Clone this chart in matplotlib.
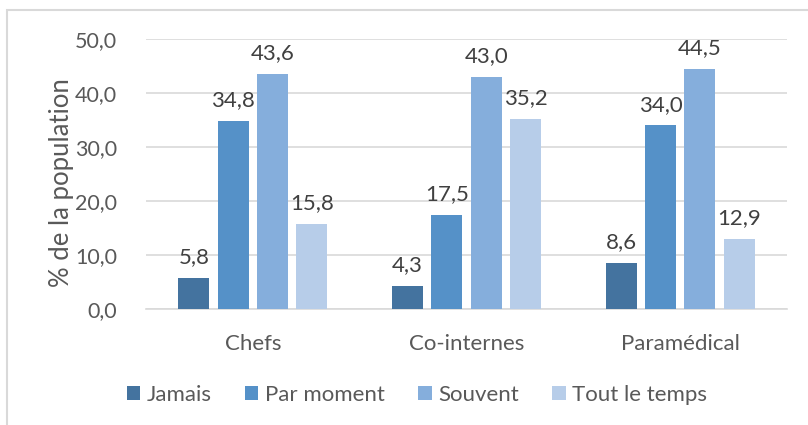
import numpy as np
import matplotlib.pyplot as plt
from matplotlib.patches import Rectangle

categories = ["Chefs", "Co-internes", "Paramédical"]
series_names = ["Jamais", "Par moment", "Souvent", "Tout le temps"]
jamais = [5.8, 4.3, 8.6]
par_moment = [34.8, 17.5, 34.0]
souvent = [43.6, 43.0, 44.5]
tout_le_temps = [15.8, 35.2, 12.9]
yticks = [0, 10, 20, 30, 40, 50]

colors = ["#44739F", "#5591C8", "#85AEDC", "#B7CDE9"]
text_col = "#595959"
grid_col = "#D9D9D9"

plt.rcParams["font.family"] = ["Lato", "DejaVu Sans"]

fig = plt.figure(figsize=(8.08, 4.25), dpi=100)
ax = fig.add_axes([146 / 808, 1 - 309 / 425, (787 - 146) / 808, (309 - 39) / 425])

x = np.arange(len(categories))
width = 0.145
step = 0.184
all_series = [jamais, par_moment, souvent, tout_le_temps]
for i, (name, vals) in enumerate(zip(series_names, all_series)):
    pos = x + (i - 1.5) * step
    bars = ax.bar(pos, vals, width, color=colors[i], label=name, zorder=3)
    for b, v in zip(bars, vals):
        ax.text(b.get_x() + b.get_width() / 2, v + 2.0, "{:.1f}".format(v).replace(".", ","),
                ha="center", va="bottom", fontsize=16, color="#404040")

ax.set_xlim(-0.5, 2.5)
ax.set_ylim(0, 50)
ax.set_yticks(yticks)
ax.set_yticklabels(["{:.1f}".format(t).replace(".", ",") for t in yticks])
ax.set_xticks(x)
ax.set_xticklabels(categories, fontsize=16)
ax.tick_params(axis="both", length=0, labelcolor=text_col)
ax.tick_params(axis="y", labelsize=15.5, pad=21)
ax.tick_params(axis="x", pad=18)
ax.yaxis.grid(True, color=grid_col, linewidth=1.2, zorder=0)
for s in ["top", "right", "left"]:
    ax.spines[s].set_visible(False)
ax.spines["bottom"].set_color(grid_col)
ax.spines["bottom"].set_linewidth(1.2)
ax.set_ylabel("% de la population", fontsize=18.5, color=text_col)
ax.yaxis.set_label_coords(-(146 - 62) / 641, 0.47)
ax.yaxis.label.set_va("center")

leg = fig.legend(loc="center", bbox_to_anchor=(417 / 808, 1 - 395 / 425), ncol=4,
                 frameon=False, fontsize=16, handlelength=0.6, handleheight=0.6,
                 handletextpad=0.3, columnspacing=1.5)
for t in leg.get_texts():
    t.set_color(text_col)

# outer chart frame
fig.patches.append(Rectangle((7 / 808, -0.1), 1.1, 1 - 10 / 425 + 0.1, transform=fig.transFigure,
                             fill=False, edgecolor=grid_col, linewidth=1.5))

fig.savefig("out.png", dpi=100)
